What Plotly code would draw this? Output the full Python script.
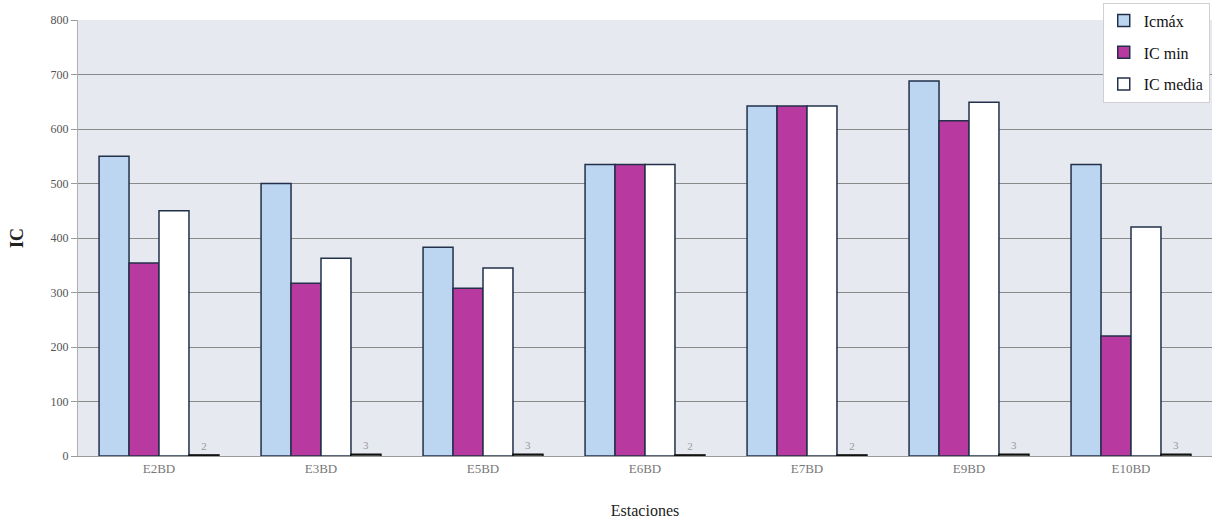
import plotly.graph_objects as go

# Stations and index values
estaciones = ["E2BD", "E3BD", "E5BD", "E6BD", "E7BD", "E9BD", "E10BD"]
ic_max = [550, 500, 383, 535, 642, 688, 535]
ic_min = [354, 317, 308, 535, 642, 615, 220]
ic_media = [450, 363, 345, 535, 642, 649, 420]
n_muestras = [2, 3, 3, 2, 2, 3, 3]

y_ticks = [0, 100, 200, 300, 400, 500, 600, 700, 800]

SERIF = "Liberation Serif, Times New Roman, serif"
OUTLINE = "#22304a"

fig = go.Figure()

fig.add_trace(go.Bar(
    x=estaciones, y=ic_max, name="Icmáx",
    marker=dict(color="#bcd6f2", line=dict(color=OUTLINE, width=1.5)),
    legendgroup="a",
))
fig.add_trace(go.Bar(
    x=estaciones, y=ic_min, name="IC min",
    marker=dict(color="#b8399f", line=dict(color=OUTLINE, width=1.5)),
    legendgroup="b",
))
fig.add_trace(go.Bar(
    x=estaciones, y=ic_media, name="IC media",
    marker=dict(color="#ffffff", line=dict(color=OUTLINE, width=1.5)),
    legendgroup="c",
))
fig.add_trace(go.Bar(
    x=estaciones, y=n_muestras, name="n",
    marker=dict(color="#ffffff", line=dict(color="#111111", width=1.5)),
    text=[str(v) for v in n_muestras], textposition="outside",
    textfont=dict(family=SERIF, size=11, color="#999999"),
    cliponaxis=False, showlegend=False,
))

fig.update_layout(
    width=1214, height=531,
    margin=dict(l=78, r=2, t=20, b=75),
    paper_bgcolor="#ffffff",
    plot_bgcolor="#e7e9f1",
    barmode="group",
    bargap=0.26,
    bargroupgap=0.0,
    font=dict(family=SERIF, color="#333333"),
    legend=dict(
        x=0.998, y=1.04, xanchor="right", yanchor="top",
        bgcolor="#ffffff", bordercolor="#d0d0d0", borderwidth=1,
        font=dict(family=SERIF, size=16, color="#111111"),
        traceorder="grouped", tracegroupgap=8,
        itemwidth=30,
    ),
    xaxis=dict(
        showgrid=False, ticks="", showline=True, linecolor="#9a9a9a",
        tickfont=dict(family=SERIF, size=13, color="#777777"),
        title=dict(text="Estaciones", font=dict(family=SERIF, size=16, color="#222222"),
                   standoff=30),
    ),
    yaxis=dict(
        range=[0, 800], tickvals=y_ticks,
        showgrid=True, gridcolor="#8a8a8a", gridwidth=1,
        zeroline=False, showline=True, linecolor="#b0b0b0",
        ticks="outside", ticklen=6, tickcolor="#9a9a9a",
        tickfont=dict(family=SERIF, size=12, color="#555555"),
        title=dict(text="<b>IC</b>", font=dict(family=SERIF, size=18, color="#222222"),
                   standoff=22),
    ),
)

fig.write_html("out.html")
